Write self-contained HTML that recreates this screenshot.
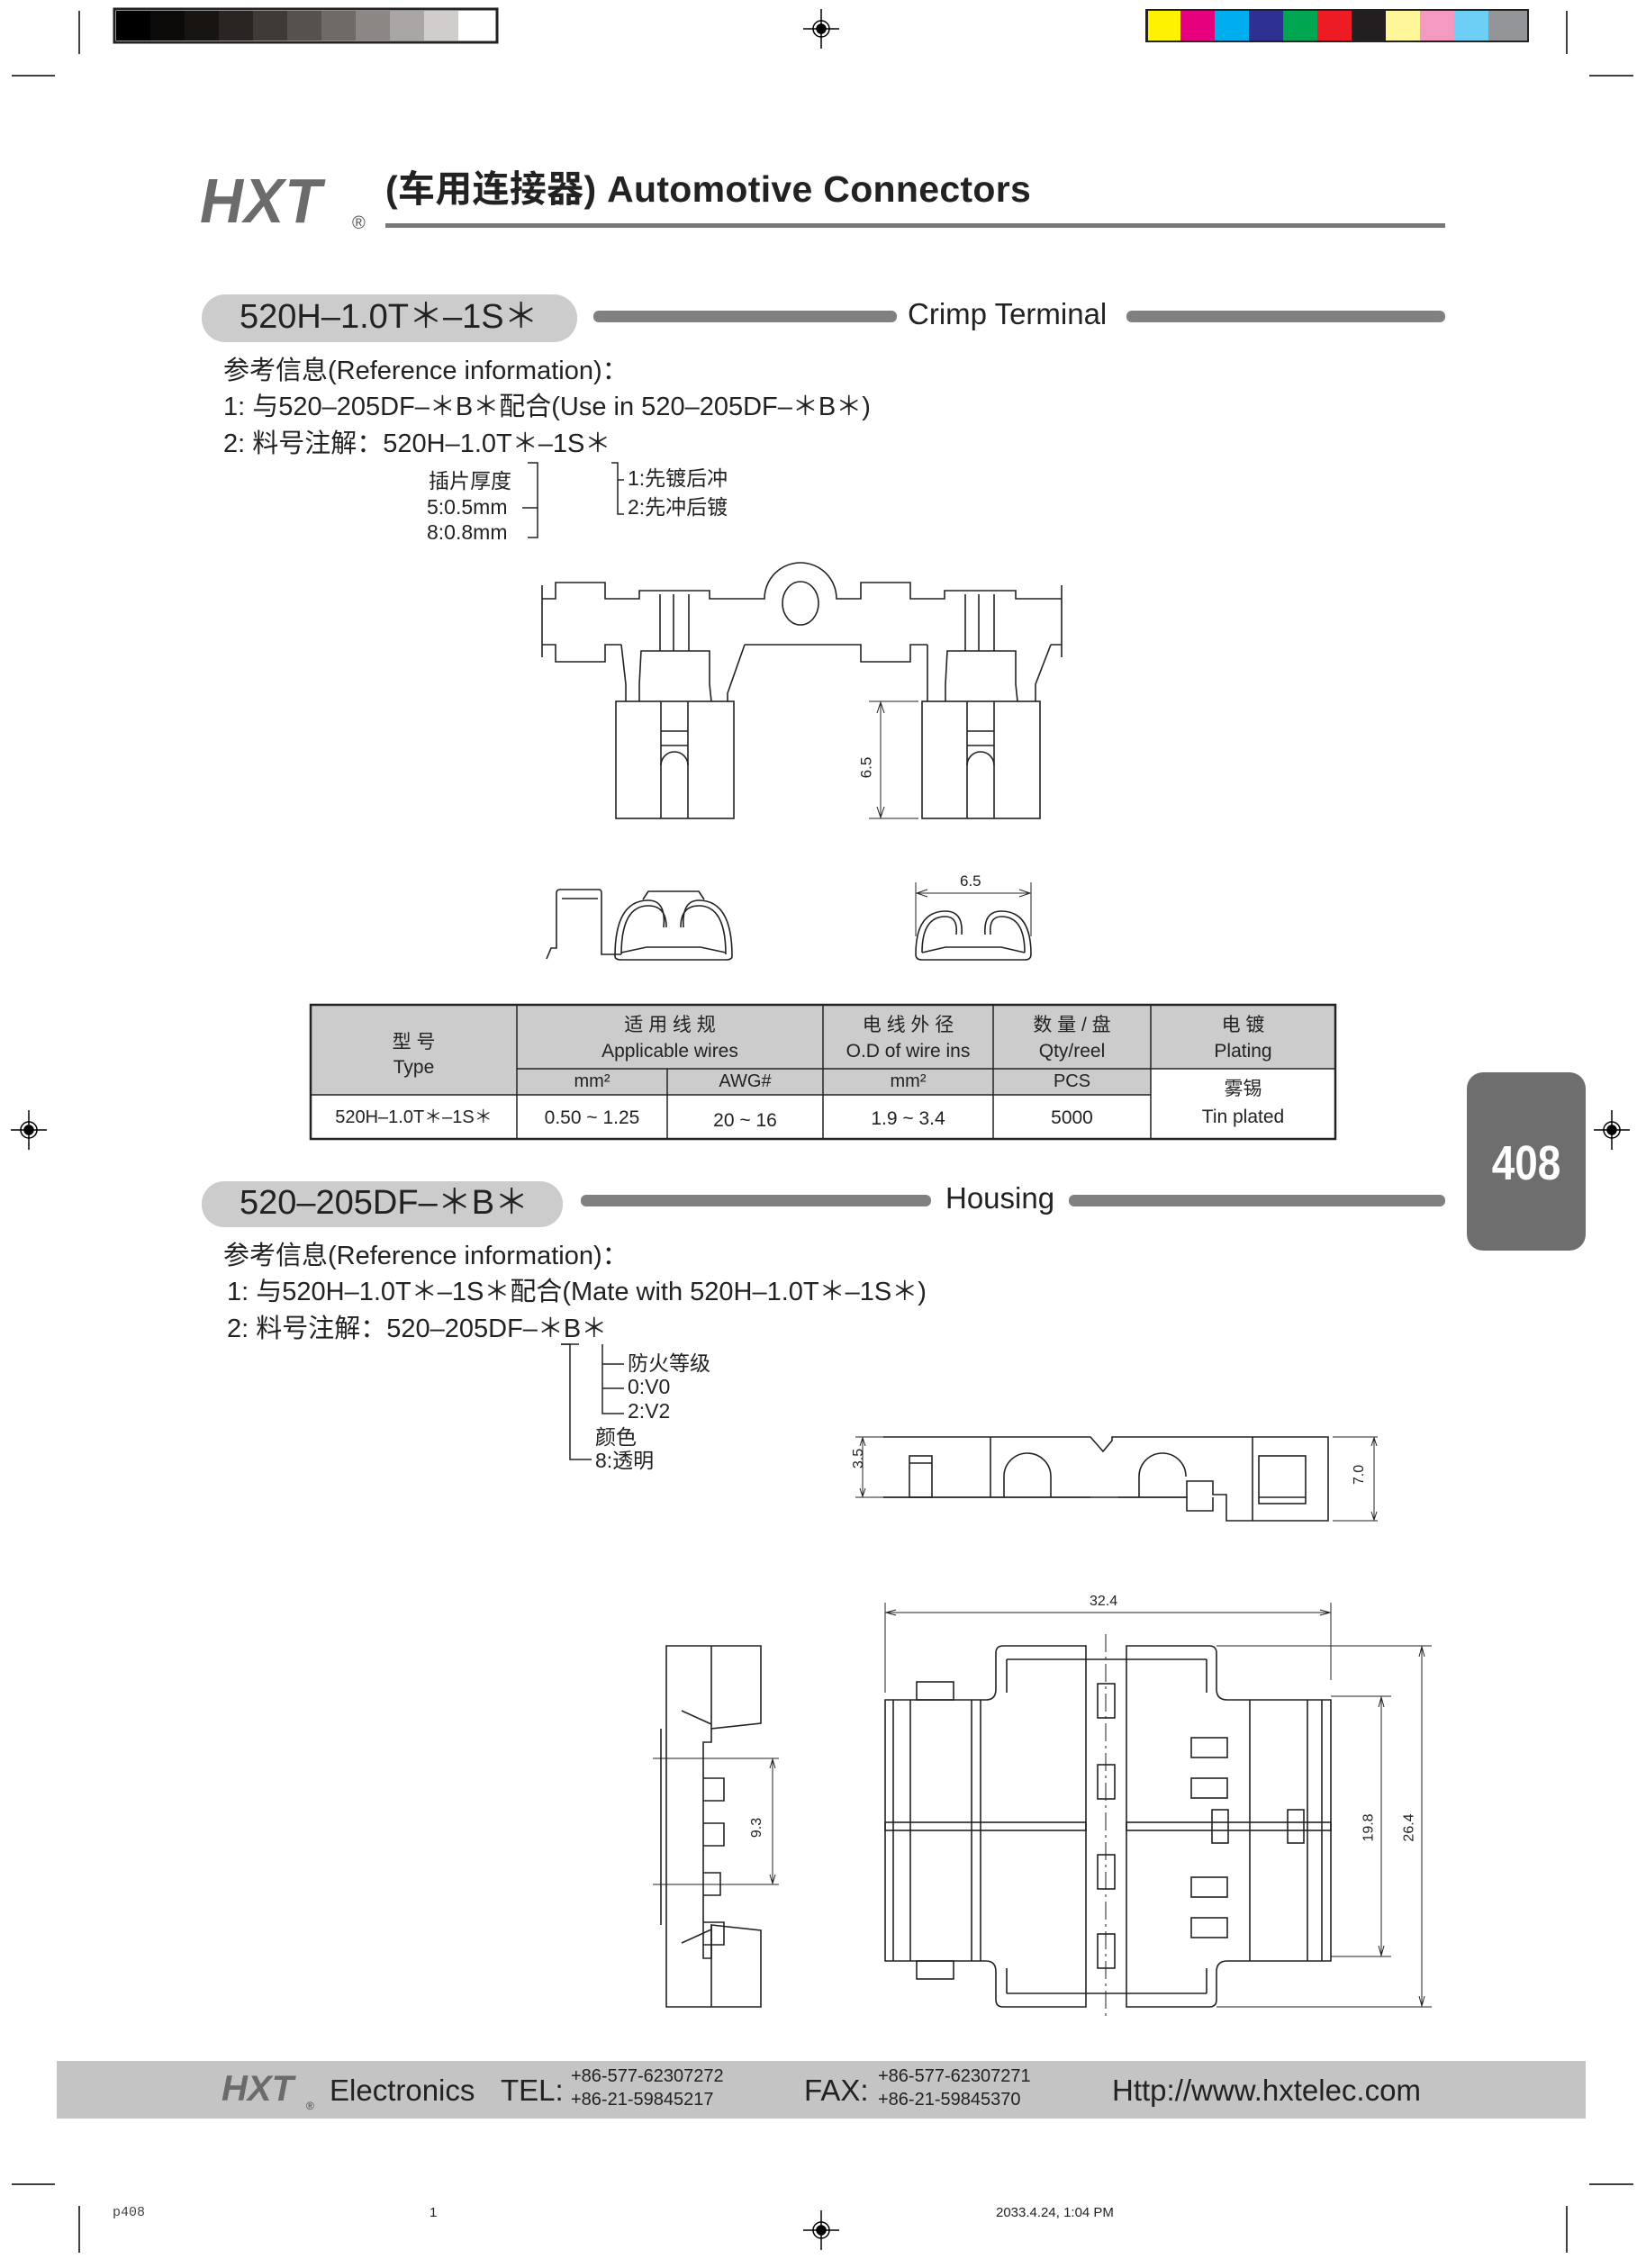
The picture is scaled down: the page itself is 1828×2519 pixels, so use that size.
<!DOCTYPE html>
<html><head><meta charset="utf-8">
<style>
html,body{margin:0;padding:0;background:#fff;}
body{width:1828px;height:2519px;position:relative;overflow:hidden;font-family:"Liberation Sans","Noto Sans CJK SC",sans-serif;color:#222;}
.t{position:absolute;white-space:nowrap;line-height:1;}
svg{position:absolute;left:0;top:0;}
</style></head><body>
<svg width="1828" height="2519" viewBox="0 0 1828 2519">
<rect x="127" y="10" width="425" height="37" fill="#fff" stroke="#222" stroke-width="3"/>
<g>
<rect x="129" y="12" width="38" height="33" fill="#000"/>
<rect x="167" y="12" width="38" height="33" fill="#0c0a09"/>
<rect x="205" y="12" width="38" height="33" fill="#181412"/>
<rect x="243" y="12" width="38" height="33" fill="#2a2522"/>
<rect x="281" y="12" width="38" height="33" fill="#403a37"/>
<rect x="319" y="12" width="38" height="33" fill="#57514e"/>
<rect x="357" y="12" width="38" height="33" fill="#706a67"/>
<rect x="395" y="12" width="38" height="33" fill="#8c8785"/>
<rect x="433" y="12" width="38" height="33" fill="#aaa6a5"/>
<rect x="471" y="12" width="38" height="33" fill="#d0cdcc"/>
<rect x="509" y="12" width="41" height="33" fill="#fff"/>
</g>
<rect x="1272" y="10" width="426" height="37" fill="#222"/>
<rect x="1275" y="12" width="36" height="33" fill="#fff200"/>
<rect x="1311" y="12" width="38" height="33" fill="#e6007e"/>
<rect x="1349" y="12" width="38" height="33" fill="#00aeef"/>
<rect x="1387" y="12" width="38" height="33" fill="#2e3192"/>
<rect x="1425" y="12" width="38" height="33" fill="#00a651"/>
<rect x="1463" y="12" width="38" height="33" fill="#ed1c24"/>
<rect x="1501" y="12" width="38" height="33" fill="#231f20"/>
<rect x="1539" y="12" width="38" height="33" fill="#fff799"/>
<rect x="1577" y="12" width="38" height="33" fill="#f49ac1"/>
<rect x="1615" y="12" width="38" height="33" fill="#6dcff6"/>
<rect x="1653" y="12" width="43" height="33" fill="#939598"/>
<g stroke="#000" stroke-width="1.5" fill="none">
<g transform="translate(912,32)"><line x1="-20" y1="0" x2="20" y2="0"/><line x1="0" y1="-22" x2="0" y2="22"/><circle r="9"/><circle r="5" fill="#000"/></g>
<g transform="translate(32,1255)"><line x1="-20" y1="0" x2="20" y2="0"/><line x1="0" y1="-22" x2="0" y2="22"/><circle r="9"/><circle r="5" fill="#000"/></g>
<g transform="translate(1790,1255)"><line x1="-20" y1="0" x2="20" y2="0"/><line x1="0" y1="-22" x2="0" y2="22"/><circle r="9"/><circle r="5" fill="#000"/></g>
<g transform="translate(912,2477)"><line x1="-20" y1="0" x2="20" y2="0"/><line x1="0" y1="-22" x2="0" y2="22"/><circle r="9"/><circle r="5" fill="#000"/></g>
<line x1="13" y1="84" x2="61" y2="84"/><line x1="88" y1="12" x2="88" y2="60"/>
<line x1="1765" y1="84" x2="1814" y2="84"/><line x1="1740" y1="12" x2="1740" y2="60"/>
<line x1="13" y1="2426" x2="61" y2="2426"/><line x1="88" y1="2450" x2="88" y2="2502"/>
<line x1="1765" y1="2426" x2="1814" y2="2426"/><line x1="1740" y1="2450" x2="1740" y2="2502"/>
</g>
<rect x="428" y="248" width="1177" height="5" fill="#777"/>
<rect x="224" y="327" width="417" height="53" rx="26" fill="#ccc"/>
<rect x="659" y="345" width="337" height="13" rx="6" fill="#808080"/>
<rect x="1251" y="345" width="354" height="13" rx="6" fill="#808080"/>
<rect x="224" y="1312" width="401" height="51" rx="25" fill="#ccc"/>
<rect x="645" y="1327" width="389" height="13" rx="6" fill="#808080"/>
<rect x="1187" y="1327" width="418" height="13" rx="6" fill="#808080"/>
<rect x="1629" y="1191" width="132" height="198" rx="18" fill="#6e6e6e"/>
<rect x="63" y="2289" width="1698" height="64" fill="#c4c4c4"/>
<g stroke="#222" stroke-width="1.5" fill="none">
<path d="M586,514 H597 V597 H586 M580,564 H597"/>
<path d="M679,514 H686 V571 H693 M686,533 H693"/>
<path d="M623,1493 H633 V1621 H657"/>
<path d="M669,1493 V1570 H693 M669,1515 H693 M669,1542 H693"/>
<line x1="623" y1="1493" x2="643" y2="1493"/>
</g>
<g stroke="#222" fill="none">
<rect x="345" y="1116" width="1138" height="71" fill="#ccc" stroke="none"/>
<rect x="345" y="1187" width="933" height="29" fill="#ccc" stroke="none"/>
<rect x="345" y="1116" width="1138" height="149" stroke-width="2.5"/>
<line x1="574" y1="1116" x2="574" y2="1265" stroke-width="1.5"/>
<line x1="741" y1="1187" x2="741" y2="1265" stroke-width="1.5"/>
<line x1="914" y1="1116" x2="914" y2="1265" stroke-width="1.5"/>
<line x1="1103" y1="1116" x2="1103" y2="1265" stroke-width="1.5"/>
<line x1="1278" y1="1116" x2="1278" y2="1265" stroke-width="1.5"/>
<line x1="574" y1="1187" x2="1483" y2="1187" stroke-width="1.5"/>
<line x1="345" y1="1216" x2="1278" y2="1216" stroke-width="1.5"/>
</g>
<g stroke="#222" stroke-width="1.6" fill="none">
<path d="M602,665 H617 V647 H672 V665 H710 V656 H788 V665 H849 A40,40 0 0 1 929,665 H956 V647 H1011 V665 H1049 V656 H1128 V665 H1179"/>
<path d="M602,716 H617 V735 H672 V716 H690 M827,716 H956 V735 H1011 V716 H1030 M1167,716 H1179"/>
<path d="M827,716 L808,770 V779 M690,716 L695,760 V779 M1030,716 L1030,760 V779 M1167,716 L1150,760 V779"/>
<line x1="602" y1="650" x2="602" y2="730"/><line x1="1179" y1="650" x2="1179" y2="730"/>
<ellipse cx="889" cy="670" rx="20" ry="24"/>
<path d="M710,779 V760 L712,723 H788 V760 L790,779"/>
<path d="M1050,779 V760 L1052,723 H1128 V760 L1130,779"/>
<line x1="733" y1="660" x2="733" y2="723"/><line x1="748" y1="660" x2="748" y2="723"/><line x1="765" y1="660" x2="765" y2="723"/>
<line x1="1072" y1="660" x2="1072" y2="723"/><line x1="1087" y1="660" x2="1087" y2="723"/><line x1="1104" y1="660" x2="1104" y2="723"/>
<rect x="684" y="779" width="131" height="130"/>
<line x1="734" y1="779" x2="734" y2="909"/><line x1="764" y1="779" x2="764" y2="909"/>
<line x1="734" y1="812" x2="764" y2="812"/><line x1="734" y1="828" x2="764" y2="828"/>
<path d="M734,850 A15,15 0 0 1 764,850"/>
<rect x="1024" y="779" width="131" height="130"/>
<line x1="1074" y1="779" x2="1074" y2="909"/><line x1="1104" y1="779" x2="1104" y2="909"/>
<line x1="1074" y1="812" x2="1104" y2="812"/><line x1="1074" y1="828" x2="1104" y2="828"/>
<path d="M1074,850 A15,15 0 0 1 1104,850"/>
<line x1="965" y1="779" x2="1020" y2="779" stroke-width="1"/><line x1="965" y1="909" x2="1020" y2="909" stroke-width="1"/>
<line x1="978" y1="782" x2="978" y2="906" stroke-width="1"/>
<path d="M974,792 L978,780 L982,792 M974,896 L978,908 L982,896" stroke-width="1"/>
<path d="M607,1065 L612,1053 H618 V992 Q618,988 622,988 H665 Q668,988 668,992 V1060 H690"/>
<line x1="624" y1="998" x2="664" y2="998"/>
<path d="M683,1062 Q683,1000 720,1000 Q740,1000 737,1030 M740,1030 Q740,1006 720,1006 Q690,1006 690,1060"/>
<path d="M813,1062 Q813,1000 776,1000 Q757,1000 759,1030 M756,1030 Q756,1006 776,1006 Q806,1006 806,1060"/>
<path d="M683,1062 Q683,1066 690,1066 H806 Q813,1066 813,1062"/>
<path d="M714,999 L720,990 H776 L782,999"/>
<path d="M690,1058 L718,1052 H778 L806,1058"/>
<path d="M1017,1060 Q1017,1012 1050,1012 Q1070,1012 1068,1038 M1062,1038 Q1064,1018 1050,1018 Q1024,1018 1024,1058"/>
<path d="M1145,1060 Q1145,1012 1112,1012 Q1092,1012 1094,1038 M1100,1038 Q1098,1018 1112,1018 Q1138,1018 1138,1058"/>
<path d="M1017,1060 Q1017,1066 1024,1066 H1138 Q1145,1066 1145,1060"/>
<path d="M1024,1058 L1050,1052 H1112 L1138,1058"/>
<line x1="1017" y1="980" x2="1017" y2="1040" stroke-width="1"/><line x1="1145" y1="980" x2="1145" y2="1040" stroke-width="1"/>
<line x1="1020" y1="992" x2="1142" y2="992" stroke-width="1"/>
<path d="M1030,988 L1018,992 L1030,996 M1132,988 L1144,992 L1132,996" stroke-width="1"/>
</g>
<g stroke="#222" stroke-width="1.6" fill="none">
<path d="M981,1596 H1211 L1225,1612 L1235,1600 V1596 H1475 V1689 H1362 V1660 H1347 V1645 H1318 V1663 H1242 M1211,1663 H981 Z"/>
<path d="M981,1663 H1318 V1678 H1347 V1663"/>
<line x1="1100" y1="1596" x2="1100" y2="1663"/>
<line x1="1391" y1="1596" x2="1391" y2="1689"/>
<rect x="1010" y="1617" width="25" height="46"/><line x1="1010" y1="1625" x2="1035" y2="1625"/>
<path d="M1115,1663 V1640 A26,26 0 0 1 1167,1640 V1663"/>
<path d="M1265,1663 V1640 A26,26 0 0 1 1317,1640"/>
<rect x="1398" y="1617" width="52" height="53"/><line x1="1398" y1="1663" x2="1450" y2="1663"/>
<g stroke-width="1">
<line x1="950" y1="1596" x2="985" y2="1596"/><line x1="950" y1="1663" x2="985" y2="1663"/>
<line x1="958" y1="1598" x2="958" y2="1661"/>
<line x1="1480" y1="1596" x2="1530" y2="1596"/><line x1="1480" y1="1689" x2="1530" y2="1689"/>
<line x1="1526" y1="1598" x2="1526" y2="1687"/>
<path d="M955,1606 L958,1597 L961,1606 M955,1653 L958,1662 L961,1653 M1523,1606 L1526,1597 L1529,1606 M1523,1679 L1526,1688 L1529,1679"/>
</g>
</g>
<g stroke="#222" stroke-width="1.6" fill="none">
<path d="M740,1828 H845 V1914 L790,1920 V1935 H781 V2175 H790 V2138 L845,2144 V2229 H740 Z"/>
<line x1="790" y1="1828" x2="790" y2="1920"/><line x1="790" y1="2138" x2="790" y2="2229"/>
<line x1="734" y1="1920" x2="734" y2="2138"/>
<path d="M781,1975 H804 V2000 H781 M781,2025 H804 V2050 H781 M781,2080 H800 V2105 H781 M781,2135 H804 V2160 H781"/>
<path d="M757,1900 L790,1915 M757,2158 L790,2143"/>
<g stroke-width="1"><line x1="725" y1="1953" x2="865" y2="1953"/><line x1="725" y1="2093" x2="865" y2="2093"/><line x1="858" y1="1956" x2="858" y2="2090"/>
<path d="M855,1964 L858,1954 L861,1964 M855,2082 L858,2092 L861,2082"/></g>
</g>
<g stroke="#222" stroke-width="1.6" fill="none">
<path d="M983,1888 H1095 Q1106,1888 1106,1876 V1836 Q1106,1828 1114,1828 H1206 V1843 H1251 V1828 H1343 Q1351,1828 1351,1836 V1876 Q1351,1888 1363,1888 H1478 V2178 H1363 Q1351,2178 1351,2190 V2221 Q1351,2229 1343,2229 H1251 V2214 H1206 V2229 H1114 Q1106,2229 1106,2221 V2190 Q1106,2178 1095,2178 H983 Z"/>
<line x1="1206" y1="1843" x2="1206" y2="2214"/><line x1="1251" y1="1843" x2="1251" y2="2214"/>
<line x1="1118" y1="1843" x2="1206" y2="1843"/><line x1="1251" y1="1843" x2="1340" y2="1843"/>
<line x1="1118" y1="2214" x2="1206" y2="2214"/><line x1="1251" y1="2214" x2="1340" y2="2214"/>
<line x1="1118" y1="1843" x2="1118" y2="1880"/><line x1="1340" y1="1843" x2="1340" y2="1880"/>
<line x1="1118" y1="2214" x2="1118" y2="2186"/><line x1="1340" y1="2214" x2="1340" y2="2186"/>
<rect x="983" y="2024" width="223" height="9"/><rect x="1251" y="2024" width="227" height="9"/>
<line x1="992" y1="1888" x2="992" y2="2178"/><line x1="1011" y1="1888" x2="1011" y2="2178"/><line x1="1079" y1="1888" x2="1079" y2="2178"/><line x1="1089" y1="1888" x2="1089" y2="2178"/>
<line x1="1388" y1="1888" x2="1388" y2="2178"/><line x1="1452" y1="1888" x2="1452" y2="2178"/><line x1="1468" y1="1888" x2="1468" y2="2178"/>
<rect x="1018" y="1868" width="41" height="20"/><rect x="1018" y="2178" width="41" height="20"/>
<rect x="1219" y="1870" width="19" height="38"/><rect x="1219" y="1960" width="19" height="38"/><rect x="1219" y="2060" width="19" height="38"/><rect x="1219" y="2148" width="19" height="38"/>
<rect x="1323" y="1930" width="40" height="22"/><rect x="1323" y="1975" width="40" height="22"/><rect x="1323" y="2085" width="40" height="22"/><rect x="1323" y="2130" width="40" height="22"/>
<rect x="1346" y="2010" width="18" height="37"/><rect x="1430" y="2010" width="18" height="37"/>
<line x1="1228" y1="1815" x2="1228" y2="2240" stroke-width="1" stroke-dasharray="20,5,3,5"/>
<g stroke-width="1">
<line x1="983" y1="1780" x2="983" y2="1880"/><line x1="1478" y1="1780" x2="1478" y2="1866"/>
<line x1="985" y1="1791" x2="1476" y2="1791"/>
<path d="M995,1788 L984,1791 L995,1794 M1466,1788 L1477,1791 L1466,1794"/>
<line x1="1351" y1="1828" x2="1590" y2="1828"/><line x1="1351" y1="2229" x2="1590" y2="2229"/>
<line x1="1579" y1="1830" x2="1579" y2="2227"/>
<path d="M1576,1840 L1579,1829 L1582,1840 M1576,2217 L1579,2228 L1582,2217"/>
<line x1="1478" y1="1884" x2="1545" y2="1884"/><line x1="1478" y1="2173" x2="1545" y2="2173"/>
<line x1="1534" y1="1886" x2="1534" y2="2171"/>
<path d="M1531,1896 L1534,1885 L1537,1896 M1531,2161 L1534,2172 L1537,2161"/>
</g>
</g>
</svg>

<div class="t" style="left:222px;top:188px;font-size:70px;font-weight:bold;font-style:italic;color:#6b6b6b;letter-spacing:1px;transform:scaleX(0.95);transform-origin:left;">HXT</div>
<div class="t" style="left:391px;top:238px;font-size:20px;color:#555;">®</div>
<div class="t" style="left:428px;top:190px;font-size:41px;font-weight:bold;color:#222;letter-spacing:0.3px;">(车用连接器) Automotive Connectors</div>

<div class="t" style="left:266px;top:333px;font-size:38px;color:#222;">520H–1.0T＊–1S＊</div>
<div class="t" style="left:1008px;top:332px;font-size:33px;color:#222;">Crimp Terminal</div>

<div class="t" style="left:248px;top:398px;font-size:29px;">参考信息(Reference information)：</div>
<div class="t" style="left:248px;top:438px;font-size:29px;">1: 与520–205DF–＊B＊配合(Use in 520–205DF–＊B＊)</div>
<div class="t" style="left:248px;top:479px;font-size:29px;">2: 料号注解：520H–1.0T＊–1S＊</div>
<div class="t" style="left:476px;top:523px;font-size:23px;">插片厚度</div>
<div class="t" style="left:474px;top:552px;font-size:23px;">5:0.5mm</div>
<div class="t" style="left:474px;top:580px;font-size:23px;">8:0.8mm</div>
<div class="t" style="left:697px;top:520px;font-size:23px;">1:先镀后冲</div>
<div class="t" style="left:697px;top:552px;font-size:23px;">2:先冲后镀</div>
<div class="t" style="left:950px;top:844px;font-size:17px;transform:rotate(-90deg);transform-origin:center;">6.5</div>
<div class="t" style="left:1066px;top:970px;font-size:17px;">6.5</div>

<div class="t" style="left:345px;top:1147px;width:229px;text-align:center;font-size:21px;">型 号</div>
<div class="t" style="left:345px;top:1175px;width:229px;text-align:center;font-size:21px;">Type</div>
<div class="t" style="left:574px;top:1128px;width:340px;text-align:center;font-size:21px;">适 用 线 规</div>
<div class="t" style="left:574px;top:1157px;width:340px;text-align:center;font-size:21px;">Applicable wires</div>
<div class="t" style="left:914px;top:1128px;width:189px;text-align:center;font-size:21px;">电 线 外 径</div>
<div class="t" style="left:914px;top:1157px;width:189px;text-align:center;font-size:21px;">O.D of wire ins</div>
<div class="t" style="left:1103px;top:1128px;width:175px;text-align:center;font-size:21px;">数 量 / 盘</div>
<div class="t" style="left:1103px;top:1157px;width:175px;text-align:center;font-size:21px;">Qty/reel</div>
<div class="t" style="left:1278px;top:1128px;width:205px;text-align:center;font-size:21px;">电 镀</div>
<div class="t" style="left:1278px;top:1157px;width:205px;text-align:center;font-size:21px;">Plating</div>
<div class="t" style="left:574px;top:1191px;width:167px;text-align:center;font-size:20px;">mm²</div>
<div class="t" style="left:741px;top:1191px;width:173px;text-align:center;font-size:20px;">AWG#</div>
<div class="t" style="left:914px;top:1191px;width:189px;text-align:center;font-size:20px;">mm²</div>
<div class="t" style="left:1103px;top:1191px;width:175px;text-align:center;font-size:20px;">PCS</div>
<div class="t" style="left:1278px;top:1199px;width:205px;text-align:center;font-size:21px;">雾锡</div>
<div class="t" style="left:1278px;top:1230px;width:205px;text-align:center;font-size:21px;">Tin plated</div>
<div class="t" style="left:345px;top:1231px;width:229px;text-align:center;font-size:20px;">520H–1.0T＊–1S＊</div>
<div class="t" style="left:574px;top:1231px;width:167px;text-align:center;font-size:21px;">0.50 ~ 1.25</div>
<div class="t" style="left:741px;top:1234px;width:173px;text-align:center;font-size:21px;">20 ~ 16</div>
<div class="t" style="left:914px;top:1232px;width:189px;text-align:center;font-size:21px;">1.9 ~ 3.4</div>
<div class="t" style="left:1103px;top:1231px;width:175px;text-align:center;font-size:21px;">5000</div>

<div class="t" style="left:1629px;top:1265px;width:132px;text-align:center;font-size:54px;font-weight:bold;color:#fff;transform:scaleX(0.85);">408</div>

<div class="t" style="left:266px;top:1317px;font-size:38px;">520–205DF–＊B＊</div>
<div class="t" style="left:1050px;top:1314px;font-size:33px;">Housing</div>
<div class="t" style="left:248px;top:1381px;font-size:29px;">参考信息(Reference information)：</div>
<div class="t" style="left:252px;top:1421px;font-size:29px;">1: 与520H–1.0T＊–1S＊配合(Mate with 520H–1.0T＊–1S＊)</div>
<div class="t" style="left:252px;top:1462px;font-size:29px;">2: 料号注解：520–205DF–＊B＊</div>
<div class="t" style="left:697px;top:1503px;font-size:23px;">防火等级</div>
<div class="t" style="left:697px;top:1529px;font-size:23px;">0:V0</div>
<div class="t" style="left:697px;top:1556px;font-size:23px;">2:V2</div>
<div class="t" style="left:661px;top:1585px;font-size:23px;">颜色</div>
<div class="t" style="left:661px;top:1611px;font-size:23px;">8:透明</div>
<div class="t" style="left:943px;top:1612px;font-size:16px;transform:rotate(-90deg);">3.5</div>
<div class="t" style="left:1499px;top:1630px;font-size:16px;transform:rotate(-90deg);">7.0</div>
<div class="t" style="left:1210px;top:1771px;font-size:16px;">32.4</div>
<div class="t" style="left:830px;top:2022px;font-size:16px;transform:rotate(-90deg);">9.3</div>
<div class="t" style="left:1505px;top:2022px;font-size:16px;transform:rotate(-90deg);">19.8</div>
<div class="t" style="left:1550px;top:2022px;font-size:16px;transform:rotate(-90deg);">26.4</div>

<div class="t" style="left:246px;top:2300px;font-size:40px;font-weight:bold;font-style:italic;color:#6b6b6b;">HXT</div>
<div class="t" style="left:340px;top:2333px;font-size:12px;color:#444;">®</div>
<div class="t" style="left:366px;top:2305px;font-size:33px;">Electronics</div>
<div class="t" style="left:556px;top:2305px;font-size:33px;">TEL:</div>
<div class="t" style="left:634px;top:2296px;font-size:20px;">+86-577-62307272</div>
<div class="t" style="left:634px;top:2322px;font-size:20px;">+86-21-59845217</div>
<div class="t" style="left:893px;top:2305px;font-size:33px;">FAX:</div>
<div class="t" style="left:975px;top:2296px;font-size:20px;">+86-577-62307271</div>
<div class="t" style="left:975px;top:2322px;font-size:20px;">+86-21-59845370</div>
<div class="t" style="left:1235px;top:2305px;font-size:33px;">Http://www.hxtelec.com</div>

<div class="t" style="left:125px;top:2450px;font-size:15px;font-family:'Liberation Mono',monospace;color:#444;">p408</div>
<div class="t" style="left:477px;top:2450px;font-size:15px;">1</div>
<div class="t" style="left:1106px;top:2450px;font-size:15px;">2033.4.24, 1:04 PM</div>
</body></html>
